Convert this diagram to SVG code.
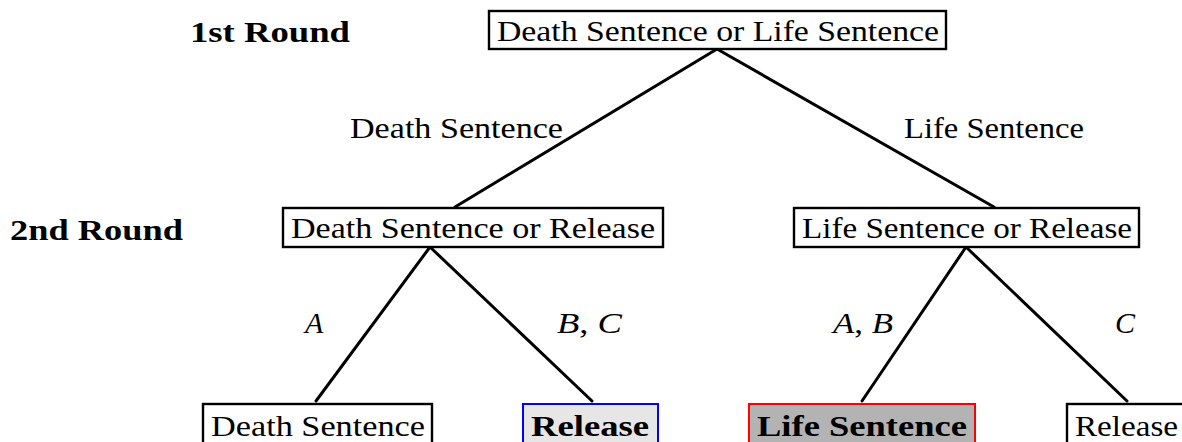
<svg xmlns="http://www.w3.org/2000/svg" width="1182" height="442" viewBox="0 0 1182 442">
  <style>
    .box { fill: #ffffff; stroke: #000000; stroke-width: 2.4; }
    .txt { font-family: "Liberation Serif", "Times New Roman", serif; font-size: 30px; fill: #000000; }
    .bold { font-family: "Liberation Serif", "Times New Roman", serif; font-size: 29px; font-weight: bold; fill: #000000; }
    .math { font-family: "Liberation Serif", "Times New Roman", serif; font-size: 30px; font-style: italic; fill: #000000; }
    .edge { stroke: #000000; stroke-width: 3; fill: none; stroke-linecap: round; }
  </style>
  <rect width="1182" height="442" fill="#ffffff"/>

  <!-- round headings -->
  <text class="bold" x="190" y="42" textLength="160" lengthAdjust="spacingAndGlyphs">1st Round</text>
  <text class="bold" x="10" y="240" textLength="173" lengthAdjust="spacingAndGlyphs">2nd Round</text>

  <!-- connectors -->
  <g id="connectors">
    <line class="edge" x1="717" y1="49" x2="455" y2="207"/>
    <line class="edge" x1="717" y1="49" x2="994" y2="207"/>
    <line class="edge" x1="430" y1="247" x2="316" y2="401"/>
    <line class="edge" x1="430" y1="247" x2="592" y2="401"/>
    <line class="edge" x1="966" y1="247" x2="862" y2="401"/>
    <line class="edge" x1="966" y1="247" x2="1127" y2="401"/>
    <text class="txt" x="350" y="138" textLength="213" lengthAdjust="spacingAndGlyphs">Death Sentence</text>
    <text class="txt" x="904" y="138" textLength="180" lengthAdjust="spacingAndGlyphs">Life Sentence</text>
    <text class="math" x="305" y="333">A</text>
    <text class="math" x="557" y="333" textLength="65" lengthAdjust="spacingAndGlyphs">B<tspan font-style="normal">,</tspan> C</text>
    <text class="math" x="833" y="333" textLength="60" lengthAdjust="spacingAndGlyphs">A<tspan font-style="normal">,</tspan> B</text>
    <text class="math" x="1115" y="333">C</text>
  </g>

  <!-- root -->
  <g id="root">
    <rect class="box" x="489" y="11" width="457" height="38"/>
    <text class="txt" x="497" y="41" textLength="442" lengthAdjust="spacingAndGlyphs">Death Sentence or Life Sentence</text>
  </g>

  <!-- second round -->
  <g id="death-or-release">
    <rect class="box" x="283" y="208" width="380" height="39"/>
    <text class="txt" x="291" y="238" textLength="364" lengthAdjust="spacingAndGlyphs">Death Sentence or Release</text>
  </g>
  <g id="life-or-release">
    <rect class="box" x="794" y="208" width="345" height="39"/>
    <text class="txt" x="802" y="238" textLength="330" lengthAdjust="spacingAndGlyphs">Life Sentence or Release</text>
  </g>

  <!-- outcomes -->
  <g id="death-sentence">
    <rect class="box" x="203" y="404" width="229" height="50"/>
    <text class="txt" x="211" y="436" textLength="214" lengthAdjust="spacingAndGlyphs">Death Sentence</text>
  </g>
  <g id="release-a">
    <rect x="523" y="404" width="135" height="50" fill="#e6e6e6" stroke="#0000ff" stroke-width="2"/>
    <text class="bold" x="531" y="436" textLength="118" lengthAdjust="spacingAndGlyphs">Release</text>
  </g>
  <g id="life-sentence">
    <rect x="749" y="404" width="226" height="50" fill="#b3b3b3" stroke="#ff0000" stroke-width="2"/>
    <text class="bold" x="757" y="436" textLength="210" lengthAdjust="spacingAndGlyphs">Life Sentence</text>
  </g>
  <g id="release-b">
    <rect class="box" x="1067" y="404" width="130" height="50"/>
    <text class="txt" x="1075" y="436" textLength="103" lengthAdjust="spacingAndGlyphs">Release</text>
  </g>
</svg>
